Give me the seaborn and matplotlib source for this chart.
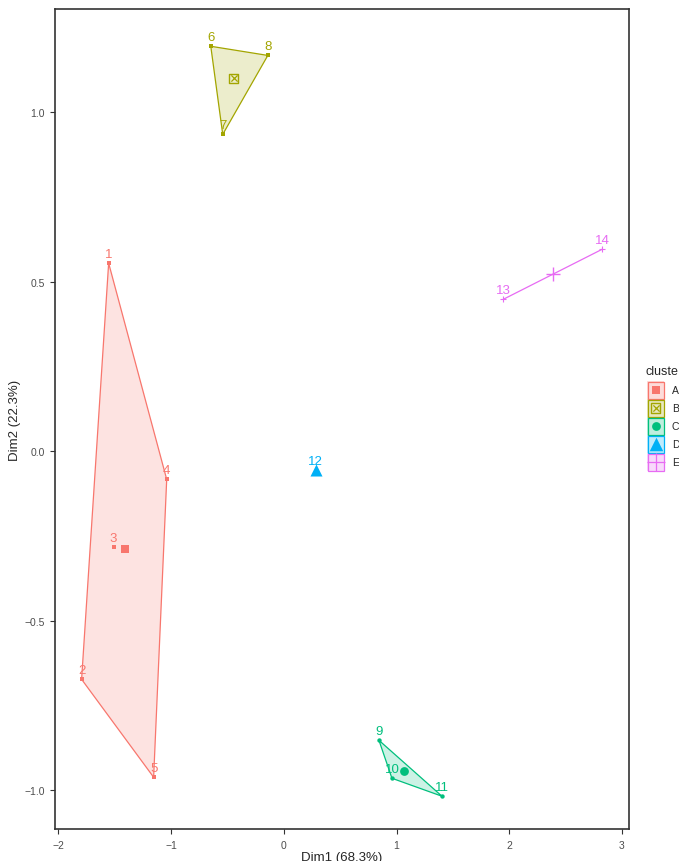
import matplotlib.pyplot as plt
from matplotlib.patches import Polygon, Rectangle
import numpy as np
import pandas as pd
import seaborn as sns

# point coordinates
labels = ["1", "2", "3", "4", "5", "6", "7", "8", "9", "10", "11", "12", "13", "14"]
dim1 = [-1.554, -1.794, -1.51, -1.039, -1.155, -0.648, -0.542, -0.142,
        0.844, 0.959, 1.403, 0.284, 1.945, 2.824]
dim2 = [0.555, -0.673, -0.283, -0.083, -0.962, 1.195, 0.935, 1.168,
        -0.853, -0.965, -1.018, -0.056, 0.448, 0.596]
cluster = ["A"] * 5 + ["B"] * 3 + ["C"] * 3 + ["D"] + ["E"] * 2

# cluster centres
centre_names = ["A", "B", "C", "D", "E"]
centre_x = [-1.412, -0.444, 1.069, 0.284, 2.385]
centre_y = [-0.289, 1.100, -0.945, -0.056, 0.522]

colors = {"A": "#F8766D", "B": "#A3A500", "C": "#00BF7D", "D": "#00B0F6", "E": "#E76BF3"}
markers = {"A": "s", "B": "s", "C": "o", "D": "^", "E": "+"}

df = pd.DataFrame({"label": labels, "Dim1": dim1, "Dim2": dim2, "cluster": cluster})


def hull(pts):
    pts = sorted(map(tuple, pts))
    if len(pts) < 3:
        return pts

    def cross(o, a, b):
        return (a[0] - o[0]) * (b[1] - o[1]) - (a[1] - o[1]) * (b[0] - o[0])
    lower, upper = [], []
    for p in pts:
        while len(lower) >= 2 and cross(lower[-2], lower[-1], p) <= 0:
            lower.pop()
        lower.append(p)
    for p in reversed(pts):
        while len(upper) >= 2 and cross(upper[-2], upper[-1], p) <= 0:
            upper.pop()
        upper.append(p)
    return lower[:-1] + upper[:-1]


def draw_marker(axis, x, y, c):
    # large cluster glyph for centres / legend keys
    col = colors[c]
    if c == "B":
        axis.scatter([x], [y], marker="s", s=45, facecolor="none", edgecolor=col,
                     linewidth=1.0, zorder=5)
        axis.scatter([x], [y], marker="x", s=20, color=col, linewidth=0.9, zorder=5)
    elif c == "E":
        axis.scatter([x], [y], marker="+", s=90, color=col, linewidth=1.0, zorder=5)
    elif c == "D":
        axis.scatter([x], [y], marker="^", s=75, color=col, linewidth=0, zorder=5)
    else:
        axis.scatter([x], [y], marker=markers[c], s=40, color=col, linewidth=0, zorder=5)


sns.set_style("white")
plt.rcParams["font.family"] = ["Liberation Sans", "DejaVu Sans"]

fig = plt.figure(figsize=(6.79, 8.62), dpi=100)
ax = fig.add_axes([0.081, 0.037, 0.845, 0.951])

for c in centre_names:
    sub = df[df.cluster == c]
    col = colors[c]
    h = hull(sub[["Dim1", "Dim2"]].values)
    if len(h) >= 3:
        ax.add_patch(Polygon(h, closed=True, facecolor=col, alpha=0.2, edgecolor="none", zorder=1))
        ax.add_patch(Polygon(h, closed=True, facecolor="none", edgecolor=col, lw=0.9, zorder=2))
    elif len(h) == 2:
        ax.plot([p[0] for p in h], [p[1] for p in h], color=col, lw=0.9, zorder=2)
    if c != "D":
        sns.scatterplot(data=sub, x="Dim1", y="Dim2", color=col, marker=markers[c],
                        s=10 if c != "E" else 25, linewidth=0.8 if c == "E" else 0,
                        ax=ax, zorder=3, legend=False)
    for _, r in sub.iterrows():
        ax.annotate(r.label, (r.Dim1, r.Dim2), xytext=(0, 2.5), textcoords="offset points",
                    ha="center", va="bottom", color=col, fontsize=9.5, zorder=4)

# centres
for c, cx, cy in zip(centre_names, centre_x, centre_y):
    draw_marker(ax, cx, cy, c)

ax.set_xlim(-2.03, 3.06)
ax.set_ylim(-1.115, 1.304)
ax.set_xticks([-2, -1, 0, 1, 2, 3])
ax.set_xticklabels(["\u22122", "\u22121", "0", "1", "2", "3"])
ax.set_yticks([-1.0, -0.5, 0.0, 0.5, 1.0])
ax.set_yticklabels(["\u22121.0", "\u22120.5", "0.0", "0.5", "1.0"])
ax.tick_params(axis="both", direction="out", length=3.5, width=0.8, color="#333333",
               labelsize=7.5, labelcolor="#4D4D4D", pad=4, bottom=True, left=True)
for s in ax.spines.values():
    s.set_color("#333333")
    s.set_linewidth(1.2)
ax.set_xlabel("Dim1 (68.3%)", fontsize=9.5, labelpad=1)
ax.set_ylabel("Dim2 (22.3%)", fontsize=9.5, labelpad=2)

# legend drawn by hand in pixel space so keys are contiguous boxes
lax = fig.add_axes([0, 0, 1, 1], facecolor="none")
lax.set_xlim(0, 679)
lax.set_ylim(862, 0)
lax.axis("off")
lax.text(645, 372, "cluste", fontsize=9, va="center", ha="left")
key_w, key_h, key_x, key_y = 17, 18, 647, 382
for i, c in enumerate(centre_names):
    col = colors[c]
    y0 = key_y + i * key_h
    lax.add_patch(Rectangle((key_x, y0), key_w, key_h, facecolor=col, alpha=0.25,
                            edgecolor="none", zorder=2))
    lax.add_patch(Rectangle((key_x + 0.5, y0 + 0.5), key_w - 1, key_h - 1, facecolor="none",
                            edgecolor=col, lw=0.9, zorder=3))
    xc, yc = key_x + key_w / 2, y0 + key_h / 2
    if c == "E":
        lax.scatter([xc], [yc], marker="+", s=150, color=col, linewidth=0.9, zorder=5)
    elif c == "D":
        lax.scatter([xc], [yc], marker="^", s=95, color=col, linewidth=0, zorder=5)
    else:
        draw_marker(lax, xc, yc, c)
    lax.text(672, yc, c, fontsize=7.5, va="center", ha="left")

fig.savefig("out.png", dpi=100)
